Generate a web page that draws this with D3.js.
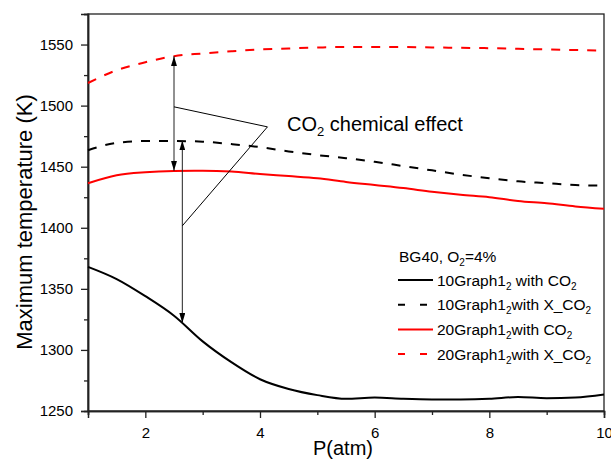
<!DOCTYPE html>
<html>
<head>
<meta charset="utf-8">
<script src="https://cdn.jsdelivr.net/npm/d3@7"></script>
<style>
  html, body { margin: 0; padding: 0; background: #fff; }
  svg { display: block; font-family: "Liberation Sans", Arial, sans-serif; }
</style>
</head>
<body>
<svg id="chart" width="611" height="459"></svg>
<script>
// Pressure (atm)
const pressure = [1, 1.5, 2, 2.5, 3, 3.5, 4, 4.5, 5, 5.5, 6, 6.5, 7, 7.5, 8, 8.5, 9, 9.5, 10];

// Maximum temperature (K) for each case
const g10WithCO2 = [1368, 1358, 1344, 1328, 1307, 1290, 1276, 1268, 1263, 1260, 1261, 1260, 1259.5, 1259.5, 1260, 1261.5, 1260.5, 1261, 1263.5];
const g10WithXCO2 = [1463.5, 1469.5, 1471, 1471, 1470.5, 1468.5, 1466, 1462.5, 1459.5, 1457, 1454, 1450.5, 1447, 1443.5, 1440.5, 1438, 1436.5, 1435, 1434.5];
const g20WithCO2 = [1436.5, 1443, 1445.5, 1446.5, 1446.7, 1446, 1444, 1442.3, 1440.5, 1437.5, 1435, 1432.5, 1429.5, 1427, 1425, 1422, 1420, 1417.5, 1415.5];
const g20WithXCO2 = [1518.5, 1529, 1535.5, 1540.5, 1542.7, 1544.5, 1546, 1546.8, 1547.5, 1548, 1548, 1548, 1547.6, 1547.3, 1547, 1546.5, 1546, 1545.5, 1545];

const xTicks = [2, 4, 6, 8, 10];
const xMinorTicks = [1, 3, 5, 7, 9];
const yTicks = [1250, 1300, 1350, 1400, 1450, 1500, 1550];
const yMinorTicks = [1275, 1325, 1375, 1425, 1475, 1525, 1575];

// Double arrows marking the CO2 chemical effect (data units)
const effectArrows = [
  { x: 2.5, from: 1540.5, to: 1446.6 },
  { x: 2.645, from: 1471.5, to: 1322 }
];
// Pointer lines from the label to the two arrows (data units)
const pointerApex = { x: 4.13, y: 1482.6 };
const pointerEnds = [{ x: 2.5, y: 1499 }, { x: 2.645, y: 1401.6 }];

const series = [
  { name: "10Graph1", sep: " ", tail: "with ", gas: "CO", values: g10WithCO2, color: "#000", dash: null },
  { name: "10Graph1", sep: "", tail: "with X_", gas: "CO", values: g10WithXCO2, color: "#000", dash: "9,9" },
  { name: "20Graph1", sep: "", tail: "with ", gas: "CO", values: g20WithCO2, color: "#ff0000", dash: null },
  { name: "20Graph1", sep: "", tail: "with X_", gas: "CO", values: g20WithXCO2, color: "#ff0000", dash: "9,9" }
];

const svg = d3.select("#chart");
const plotLeft = 88, plotRight = 604, plotTop = 14, plotBottom = 411;

const x = d3.scaleLinear().domain([1, 10]).range([plotLeft, plotRight]);
const y = d3.scaleLinear().domain([1250, 1575]).range([plotBottom, plotTop]);

// Frame
svg.append("rect")
  .attr("x", plotLeft).attr("y", plotTop)
  .attr("width", plotRight - plotLeft).attr("height", plotBottom - plotTop)
  .attr("fill", "none").attr("stroke", "#222").attr("stroke-width", 1.3);

// Axes
function styleAxis(g) {
  g.select(".domain").attr("stroke", "#222").attr("stroke-width", 1.5);
  g.selectAll(".tick line").attr("stroke", "#222").attr("stroke-width", 1.3);
  g.selectAll(".tick text").attr("fill", "#000").style("font-size", "15px")
    .style("font-family", "'Liberation Sans', Arial, sans-serif");
}

svg.append("g").attr("transform", `translate(0,${plotBottom})`)
  .call(d3.axisBottom(x).tickValues(xMinorTicks).tickSize(4).tickFormat(""))
  .call(styleAxis);
svg.append("g").attr("transform", `translate(0,${plotBottom})`)
  .call(d3.axisBottom(x).tickValues(xTicks).tickSize(7).tickPadding(9).tickFormat(d3.format("d")))
  .call(styleAxis);

svg.append("g").attr("transform", `translate(${plotLeft},0)`)
  .call(d3.axisLeft(y).tickValues(yMinorTicks).tickSize(4).tickFormat(""))
  .call(styleAxis);
svg.append("g").attr("transform", `translate(${plotLeft},0)`)
  .call(d3.axisLeft(y).tickValues(yTicks).tickSize(7).tickPadding(8).tickFormat(d3.format("d")))
  .call(styleAxis);

// Axis titles
svg.append("text")
  .attr("x", 343).attr("y", 455)
  .attr("text-anchor", "middle")
  .style("font-size", "20px")
  .text("P(atm)");

svg.append("text")
  .attr("transform", "translate(32,222) rotate(-90)")
  .attr("text-anchor", "middle")
  .style("font-size", "22px")
  .text("Maximum temperature (K)");

// Curves
const line = d3.line()
  .x((d, i) => x(pressure[i]))
  .y(d => y(d))
  .curve(d3.curveMonotoneX);

const plot = svg.append("g");
series.forEach(s => {
  plot.append("path")
    .datum(s.values)
    .attr("d", line)
    .attr("fill", "none")
    .attr("stroke", s.color)
    .attr("stroke-width", 2)
    .attr("stroke-dasharray", s.dash);
});

// Arrow markers
const defs = svg.append("defs");
defs.append("marker")
  .attr("id", "head")
  .attr("viewBox", "0 0 10 6")
  .attr("refX", 10).attr("refY", 3)
  .attr("markerWidth", 10).attr("markerHeight", 6)
  .attr("markerUnits", "userSpaceOnUse")
  .attr("orient", "auto-start-reverse")
  .append("path")
  .attr("d", "M0,0 L10,3 L0,6 Z")
  .attr("fill", "#000");

effectArrows.forEach(a => {
  svg.append("line")
    .attr("x1", x(a.x)).attr("x2", x(a.x))
    .attr("y1", y(a.from)).attr("y2", y(a.to))
    .attr("stroke", "#222").attr("stroke-width", 1)
    .attr("marker-start", "url(#head)")
    .attr("marker-end", "url(#head)");
});

pointerEnds.forEach(p => {
  svg.append("line")
    .attr("x1", x(pointerApex.x)).attr("y1", y(pointerApex.y))
    .attr("x2", x(p.x)).attr("y2", y(p.y))
    .attr("stroke", "#000").attr("stroke-width", 1);
});

// Annotation label
const note = svg.append("text")
  .attr("x", 287).attr("y", 131)
  .style("font-size", "20px");
note.append("tspan").text("CO");
note.append("tspan").attr("dy", 5).style("font-size", "13px").text("2");
note.append("tspan").attr("dy", -5).text(" chemical effect");

// Legend
const legend = svg.append("g").style("font-size", "15.5px");
const title = legend.append("text").attr("x", 399).attr("y", 262);
title.append("tspan").text("BG40, O");
title.append("tspan").attr("dy", 4).style("font-size", "10px").text("2");
title.append("tspan").attr("dy", -4).text("=4%");

series.forEach((s, i) => {
  const ry = 280 + i * 24.7;
  legend.append("line")
    .attr("x1", 398).attr("x2", 433)
    .attr("y1", ry).attr("y2", ry)
    .attr("stroke", s.color).attr("stroke-width", 2)
    .attr("stroke-dasharray", s.dash ? "7,15" : null);
  const t = legend.append("text").attr("x", 437).attr("y", ry + 5.5);
  t.append("tspan").text(s.name);
  t.append("tspan").attr("dy", 4).style("font-size", "10px").text("2");
  t.append("tspan").attr("dy", -4).text(s.sep + s.tail + s.gas);
  t.append("tspan").attr("dy", 4).style("font-size", "10px").text("2");
});
</script>
</body>
</html>
